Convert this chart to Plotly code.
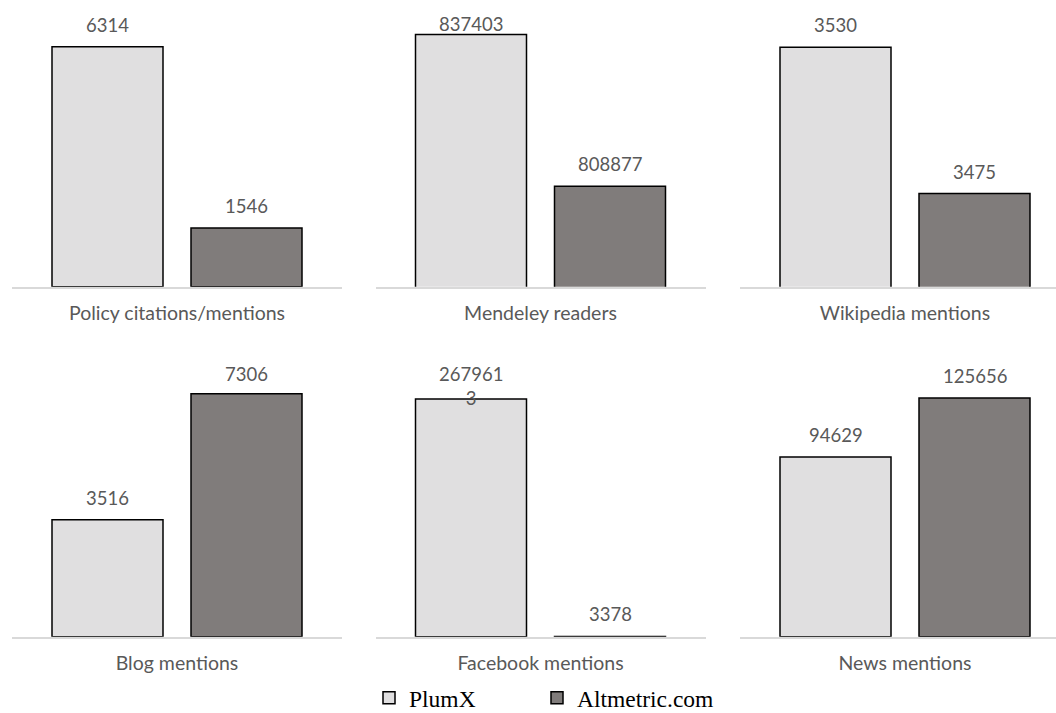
import plotly.graph_objects as go

# ---- data ----
categories = ["Policy citations/mentions", "Mendeley readers", "Wikipedia mentions",
              "Blog mentions", "Facebook mentions", "News mentions"]
series_names = ["PlumX", "Altmetric.com"]
plumx = [6314, 837403, 3530, 3516, 2679613, 94629]
altmetric = [1546, 808877, 3475, 7306, 3378, 125656]
# value-axis bounds of each panel (as in the original chart)
axis_min = [0, 790000, 3440, 0, 0, 0]
axis_max = [7000, 840000, 3540, 8000, 3000000, 140000]

# ---- style ----
W, H = 1056, 713
colors = ["#e0dfe0", "#807c7b"]
FONT = "Lato, 'Open Sans', sans-serif"
value_font = dict(family=FONT, size=18.5, color="#595959")
cat_font = dict(family=FONT, size=19.5, color="#595959")
legend_font = dict(family="'Liberation Serif', 'Times New Roman', serif", size=23.5, color="black")
bargap = 0.1576
bargroupgap = 0.2014
LINE_H = 25

# panel geometry in pixels (left, right) and (top, bottom)
col_px = [(12, 342), (375.5, 705.5), (740, 1070)]
row_px = [(20.7, 286.7), (370.7, 636.7)]
legend_x_px = [369, 537]


def wrap(v, n=6):
    s = str(v)
    return "<br>".join(s[i:i + n] for i in range(0, len(s), n))


fig = go.Figure()
layout = dict(
    width=W, height=H,
    margin=dict(l=0, r=0, t=0, b=0, autoexpand=False),
    paper_bgcolor="white", plot_bgcolor="white",
    barmode="group", bargap=bargap, bargroupgap=bargroupgap,
    showlegend=True,
    font=value_font,
)
for j in range(2):
    key = "legend" if j == 0 else "legend2"
    layout[key] = dict(orientation="h", x=legend_x_px[j] / W, xanchor="left",
                       y=-7 / H, yanchor="bottom", font=legend_font, itemwidth=30,
                       bgcolor="rgba(0,0,0,0)", borderwidth=0)

annotations = []
offset = (1 - bargap) / 4.0

for i, cat in enumerate(categories):
    r, c = divmod(i, 3)
    k = i + 1
    xa = "x" if k == 1 else f"x{k}"
    ya = "y" if k == 1 else f"y{k}"
    left, right = col_px[c]
    top, bottom = row_px[r]
    full_w = right - left
    dom_right = min(right, W)
    xr = [-0.5, -0.5 + (dom_right - left) / full_w]
    layout["xaxis" if k == 1 else f"xaxis{k}"] = dict(
        domain=[left / W, dom_right / W], anchor=ya, type="category",
        range=xr, showline=True, linecolor="#d9d9d9", linewidth=1.5,
        showgrid=False, zeroline=False, ticks="", ticklabelstandoff=8,
        tickfont=cat_font, fixedrange=True,
    )
    layout["yaxis" if k == 1 else f"yaxis{k}"] = dict(
        domain=[1 - bottom / H, 1 - top / H], anchor=xa,
        range=[axis_min[i], axis_max[i]], showticklabels=False,
        showgrid=False, zeroline=False, showline=False, ticks="",
    )
    vals = [plumx[i], altmetric[i]]
    for j, (name, v) in enumerate(zip(series_names, vals)):
        fig.add_trace(go.Bar(
            x=[cat], y=[v], name=name, xaxis=xa, yaxis=ya,
            marker=dict(color=colors[j], line=dict(color="black", width=1.5)),
            showlegend=(i == 0), legendgroup=name,
            legend="legend" if j == 0 else "legend2", hoverinfo="y",
        ))
        txt = wrap(v)
        nlines = txt.count("<br>") + 1
        # label sits above the bar, but is kept inside the chart area (like Excel)
        frac = (v - axis_min[i]) / (axis_max[i] - axis_min[i])
        bar_top_px = bottom - frac * (bottom - top)
        want = bar_top_px - 22 - LINE_H / 2 * (nlines - 1)
        floor = top - 9.5 + LINE_H / 2 * nlines
        center = max(want, floor)
        annotations.append(dict(
            x=-offset if j == 0 else offset, y=v, xref=xa, yref=ya,
            text=txt, showarrow=False, yanchor="middle", xanchor="center",
            yshift=bar_top_px - center, font=value_font,
        ))

layout["annotations"] = annotations
fig.update_layout(**layout)
fig.write_html("out.html")
